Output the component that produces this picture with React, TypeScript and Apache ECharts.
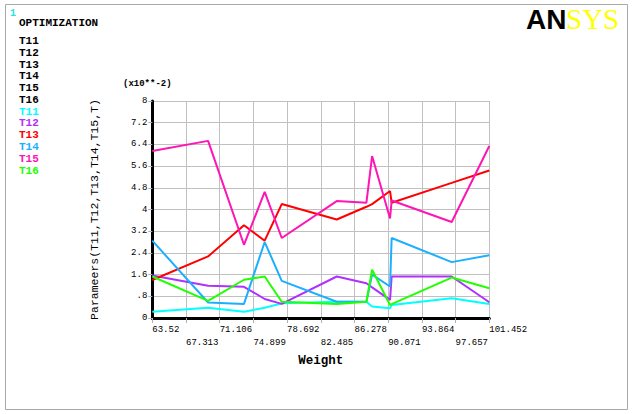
import React, { useEffect, useRef } from "react";
import * as echarts from "echarts";

const weights = [63.52, 69.8, 73.84, 76.17, 78.09, 84.28, 87.62, 88.26, 90.28, 90.46, 97.22, 101.452];
const t11 = [0.23, 0.38, 0.23, 0.38, 0.54, 0.6, 0.6, 0.42, 0.36, 0.48, 0.73, 0.52];
const t12 = [1.57, 1.19, 1.15, 0.7, 0.52, 1.53, 1.28, 1.13, 0.67, 1.53, 1.53, 0.58];
const t13 = [1.4, 2.27, 3.42, 2.85, 4.2, 3.63, 4.1, 4.2, 4.68, 4.25, 4.98, 5.44];
const t14 = [2.85, 0.57, 0.52, 2.8, 1.37, 0.6, 0.6, 1.6, 1.16, 2.95, 2.06, 2.31];
const t15 = [6.16, 6.53, 2.7, 4.65, 2.95, 4.31, 4.25, 5.97, 3.67, 4.33, 3.54, 6.34];
const t16 = [1.53, 0.63, 1.41, 1.53, 0.6, 0.52, 0.6, 1.78, 0.48, 0.51, 1.49, 1.1];

const seriesNames = ["T11", "T12", "T13", "T14", "T15", "T16"];
const seriesColors = ["#00ffff", "#b030ff", "#ff0000", "#1ab0ff", "#ff14b4", "#22ff00"];
const xTickLabels = ["63.52", "67.313", "71.106", "74.899", "78.692", "82.485", "86.278", "90.071", "93.864", "97.657", "101.452"];
const yTickLabels = ["0", ".8", "1.6", "2.4", "3.2", "4", "4.8", "5.6", "6.4", "7.2", "8"];

const MONO = '"Liberation Mono", "DejaVu Sans Mono", monospace';

export default function App() {
  const ref = useRef<HTMLDivElement>(null);
  useEffect(() => {
    const chart = echarts.init(ref.current!, null, { renderer: "svg" });
    const x0 = weights[0];
    const xSpan = weights[weights.length - 1] - x0;
    const xStep = xSpan / 10;
    const all = [t11, t12, t13, t14, t15, t16];

    const legendTexts: any[] = [];
    seriesNames.forEach((n, i) => {
      legendTexts.push({
        type: "text",
        style: { text: n, x: 19, y: 41 + i * 11.75, fill: "#000", font: `bold 11px ${MONO}`, verticalAlign: "middle" },
      });
      legendTexts.push({
        type: "text",
        style: { text: n, x: 19, y: 111.5 + i * 11.85, fill: seriesColors[i], font: `bold 11px ${MONO}`, verticalAlign: "middle" },
      });
    });

    const option: any = {
      animation: false,
      backgroundColor: "#fff",
      grid: { left: 152.3, right: 143.7, top: 101, bottom: 96, containLabel: false },
      xAxis: {
        type: "value",
        min: 0,
        max: xSpan,
        interval: xStep,
        name: "Weight",
        nameLocation: "middle",
        nameGap: 30,
        nameTextStyle: { fontFamily: MONO, fontSize: 12.5, fontWeight: "bold", color: "#000" },
        axisLine: { show: true, onZero: false, lineStyle: { color: "#000", width: 3 } },
        axisTick: { show: true, length: 5, lineStyle: { color: "#b0b0b0" } },
        splitLine: { show: true, lineStyle: { color: "#c0c0c0", width: 1 } },
        axisLabel: {
          show: true,
          interval: 0,
          showMinLabel: true,
          showMaxLabel: true,
          hideOverlap: false,
          align: "left",
          margin: 6,
          fontFamily: MONO,
          fontSize: 9,
          lineHeight: 12.6,
          color: "#000",
          formatter: (v: number) => {
            const i = Math.round(v / xStep);
            const lbl = xTickLabels[i] ?? "";
            return i % 2 === 0 ? lbl + "\n " : " \n" + lbl;
          },
        },
      },
      yAxis: {
        type: "value",
        min: 0,
        max: 8,
        interval: 0.8,
        name: "Parameers(T11,T12,T13,T14,T15,T)",
        nameLocation: "middle",
        nameRotate: 90,
        nameGap: 52,
        nameTextStyle: { fontFamily: MONO, fontSize: 11.5, color: "#000" },
        axisLine: { show: true, lineStyle: { color: "#000", width: 3 } },
        axisTick: { show: true, length: 4, lineStyle: { color: "#b0b0b0" } },
        splitLine: { show: true, lineStyle: { color: "#c0c0c0", width: 1 } },
        axisLabel: {
          show: true,
          margin: 5,
          fontFamily: MONO,
          fontSize: 9,
          color: "#000",
          formatter: (v: number) => yTickLabels[Math.round(v / 0.8)] ?? "",
        },
      },
      series: all.map((vals, i) => ({
        name: seriesNames[i],
        type: "line",
        showSymbol: false,
        symbol: "none",
        data: vals.map((v, j) => [weights[j] - x0, v]),
        lineStyle: { color: seriesColors[i], width: 2 },
        itemStyle: { color: seriesColors[i] },
        z: 2 + i,
      })),
      graphic: [
        {
          type: "rect",
          shape: { x: 5.5, y: 4.5, width: 622, height: 405 },
          style: { fill: "none", stroke: "#a8a8a8", lineWidth: 1 },
          silent: true,
        },
        { type: "text", style: { text: "1", x: 10, y: 13, fill: "#30e0e0", font: `bold 10px ${MONO}`, verticalAlign: "middle" } },
        { type: "text", style: { text: "OPTIMIZATION", x: 19, y: 23.3, fill: "#000", font: `bold 11px ${MONO}`, verticalAlign: "middle" } },
        ...legendTexts,
        { type: "text", style: { text: "(x10**-2)", x: 123, y: 83.5, fill: "#000", font: `bold 9px ${MONO}`, verticalAlign: "middle" } },
        { type: "text", style: { text: "AN", x: 526, y: 19, fill: "#000", font: '900 28px "Liberation Sans", Arial, sans-serif', verticalAlign: "middle" } },
        { type: "text", style: { text: "SYS", x: 566, y: 19, fill: "#ffff00", font: '29px "Liberation Serif", serif', verticalAlign: "middle" } },
      ],
    };
    chart.setOption(option);
    return () => chart.dispose();
  }, []);
  return (
    <div
      ref={ref}
      style={{ position: "fixed", left: 0, top: 0, width: 633, height: 414, background: "#fff" }}
    />
  );
}
